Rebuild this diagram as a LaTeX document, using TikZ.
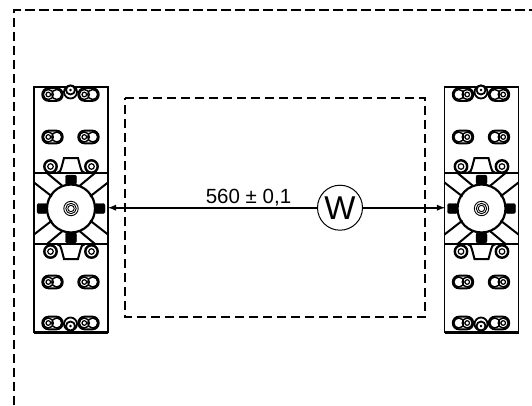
\documentclass[tikz,border=0pt]{standalone}
\usepackage{fontspec}
\setmainfont{Liberation Sans}
\usetikzlibrary{arrows}
\tikzstyle{frame}=[line width=1.3pt, dash pattern=on 9.5pt off 4.5pt]
\tikzstyle{field}=[line width=1.4pt, dash pattern=on 9pt off 5pt]
\tikzstyle{plate}=[line width=2pt]
\tikzstyle{thin}=[line width=0.9pt]
\tikzstyle{pad}=[fill=black, rounded corners=2pt]
\def\Slot#1#2#3{%
	\draw[line width=2pt, rounded corners=6.2pt] (#1-10.2,#2-6.3) rectangle (#1+10.2,#2+6.3);
	\draw[line width=1.4pt] (#1-4.2,#2) circle (5);
	\draw[line width=1.4pt] (#1+4.2,#2) circle (5);
	\draw[line width=1.2pt] (#1+#3,#2) circle (2.3);
}
\def\Bolt#1#2{%
	\draw[line width=2.4pt] (#1,#2) circle (6.2);
	\draw[line width=1.2pt] (#1,#2) circle (2.8);
}
\def\Plate#1#2{%
	\begin{scope}[shift={(#1,208.5)}]
		\draw[line width=1.5pt] (-37,-121.5) rectangle (37,124);
		\draw[plate] (-37,-35.5) -- (37,-35.5);
		\draw[plate] (-37,35.5) -- (37,35.5);
		\draw[line width=2.4pt] (-37,124) -- (37,124);
		\draw[line width=2.2pt] (0,0) circle (24);
		\draw[thin] (0,0) circle (3.2);
		\draw[thin] (0,0) circle (5.2);
		\draw[thin] (0,0) circle (7.2);
		% pads round the hub
		\draw[pad] (-5.5,-33.5) rectangle (5.5,-24);
		\draw[pad] (-5.5,24) rectangle (5.5,34.5);
		\draw[pad] (-34,-5) rectangle (-24,5);
		\draw[pad] (24,-5) rectangle (34,5);
		% diagonals
		\draw[plate] (-37,-26) -- (-19,-12);
		\draw[plate] (37,-26) -- (19,-12);
		\draw[plate] (-37,26) -- (-19,12);
		\draw[plate] (37,26) -- (19,12);
		\draw[plate] (-24,-35.5) -- (-9,-23);
		\draw[plate] (24,-35.5) -- (9,-23);
		\draw[plate] (-24,35.5) -- (-9,23);
		\draw[plate] (24,35.5) -- (9,23);
		% upper notch and lower notch
		\draw[plate] (-14,-35.5) .. controls (-11,-36.5) and (-10,-38) .. (-9.5,-41) -- (-7,-50.5) -- (7,-50.5) -- (9.5,-41) .. controls (10,-38) and (11,-36.5) .. (14,-35.5);
		\draw[plate] (-14,35.5) .. controls (-11,36.5) and (-10,38) .. (-9.5,41) -- (-7,50.5) -- (7,50.5) -- (9.5,41) .. controls (10,38) and (11,36.5) .. (14,35.5);
		\Bolt{-20.5}{-42}
		\Bolt{20.5}{-42}
		\Bolt{-20.5}{43}
		\Bolt{20.5}{43}
		% slots
		\Slot{-18.5}{-71.5}{#2}
		\Slot{17.5}{-71.5}{#2}
		\Slot{-18.5}{73.5}{#2}
		\Slot{17.5}{73.5}{#2}
		\Slot{-18.5}{-114}{#2}
		\Slot{17.5}{-114}{#2}
		\Slot{-18.5}{114.5}{#2}
		\Slot{17.5}{114.5}{#2}
		\draw[fill=white, line width=1.8pt] (-0.5,-116.5) circle (6.5);
		\draw[fill=white, line width=1.8pt] (-0.5,-118.5) circle (4.5);
		\draw[fill=black] (-0.5,-118.5) circle (1);
		\draw[fill=white, line width=1.8pt] (-0.5,115.5) circle (6.5);
		\draw[fill=white, line width=1.8pt] (-0.5,117.5) circle (4.5);
		\draw[fill=black] (-0.5,117.5) circle (1);
	\end{scope}
}

\begin{document}
\begin{tikzpicture}[x=1pt, y=-1pt]
		\useasboundingbox (0,0) rectangle (532,405);
		\draw[frame] (14,405) -- (14,10) -- (532,10);
		\draw[field] (125,98) -- (425,98) -- (425,317) -- (125,317) -- cycle;
		\Plate{71}{-4.2}
		\Plate{481.5}{4.2}
		\coordinate (tipL) at (108,207.7);
		\coordinate (tipR) at (445,207.7);
		\node[draw, circle, line width=1pt, minimum size=45pt, inner sep=0pt, font=\fontsize{33}{33}\selectfont] (W) at (340,207.7) {W};
		\draw[-latex, line width=1.8pt] (W) -- (tipL);
		\draw[-latex, line width=1.8pt] (W) -- (tipR);
		\node[font=\fontsize{20.5}{20.5}\selectfont, inner sep=0pt] (dim) at (248.5,198) {560 ± 0,1};
	\end{tikzpicture}
\end{document}
